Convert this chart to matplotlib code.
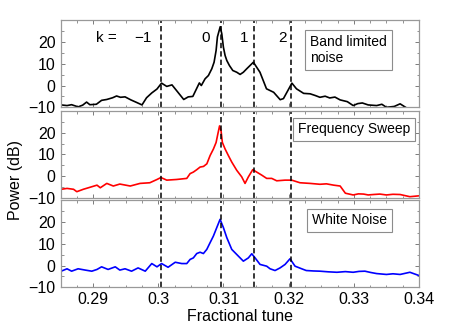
import matplotlib
matplotlib.use("Agg")
import matplotlib.pyplot as plt
from matplotlib.ticker import MultipleLocator

plt.rcParams.update({
    "font.family": ["Liberation Sans", "DejaVu Sans"],
    "font.size": 10,
    "xtick.direction": "in", "ytick.direction": "in",
    "xtick.top": True, "ytick.right": True,
})

# band limited noise (black)
bl_tune = [0.2851, 0.2860, 0.2867, 0.2877, 0.2884, 0.2890, 0.2895, 0.2905, 0.2913,
           0.2921, 0.2930, 0.2936, 0.2942, 0.2949, 0.2958, 0.2967, 0.2975, 0.2982,
           0.2990, 0.2998, 0.3005, 0.3013, 0.3021, 0.3028, 0.3039, 0.3046, 0.3053,
           0.3063, 0.3066, 0.30718, 0.30769, 0.30821, 0.30856, 0.30887, 0.30907,
           0.3095, 0.30974, 0.30999, 0.31025, 0.31051, 0.31091, 0.31143, 0.31204,
           0.31255, 0.31305, 0.31357, 0.31459, 0.3156, 0.3166, 0.3177, 0.3187,
           0.3192, 0.3205, 0.3212, 0.3223, 0.3233, 0.3241, 0.3248, 0.3256, 0.3263,
           0.3271, 0.3279, 0.3290, 0.3299, 0.3306, 0.3313, 0.3322, 0.3335, 0.3343,
           0.3350, 0.3362, 0.3371, 0.3381, 0.3395]
bl_db = [-8.9, -9.2, -8.8, -9.8, -9.0, -7.6, -8.8, -8.6, -6.8,
         -6.4, -5.6, -4.8, -5.4, -5.2, -6.6, -7.8, -8.9, -5.6,
         -3.4, -1.6, 1.1, -0.4, 0.3, -2.3, -6.4, -5.2, -5.0,
         1.2, 0.0, 3.1, 4.6, 7.7, 10.7, 16.1, 22.3,
         27.0, 23.8, 17.6, 13.8, 11.5, 9.2, 6.9, 6.1,
         5.1, 6.1, 7.7, 10.7, 6.1, -1.5, -3.1, -6.5,
         -6.0, 1.1, -1.5, -3.6, -3.8, -4.6, -5.4, -4.9, -5.7,
         -5.3, -6.6, -7.4, -9.2, -8.3, -8.0, -8.9, -9.2, -8.6,
         -10.0, -9.6, -8.4, -10.3, -10.6]

# frequency sweep (red)
fs_tune = [0.2851, 0.2860, 0.2870, 0.2875, 0.2885, 0.2895, 0.2906, 0.2911, 0.2921,
           0.2931, 0.2941, 0.2957, 0.2972, 0.2987, 0.2998, 0.3004, 0.3013, 0.3028,
           0.30437, 0.30488, 0.30538, 0.30590, 0.30641, 0.30694, 0.30745, 0.30795,
           0.30846, 0.30887, 0.30913, 0.3094, 0.30963, 0.30983, 0.31025, 0.31075,
           0.31127, 0.31204, 0.3128, 0.31331, 0.31382, 0.31449, 0.3151, 0.31587,
           0.31663, 0.3174, 0.31817, 0.31945, 0.32047, 0.32174, 0.3233, 0.3248,
           0.3258, 0.3269, 0.3279, 0.3287, 0.3299, 0.3307, 0.3315, 0.3322, 0.3330,
           0.3340, 0.3350, 0.3360, 0.3371, 0.3386, 0.3400]
fs_db = [-6.0, -5.6, -6.0, -7.1, -6.0, -5.1, -4.1, -5.3, -3.3,
         -4.5, -3.6, -4.5, -3.3, -3.0, -1.5, -0.6, -1.8, -1.5,
         -1.0, 1.2, 1.9, 3.0, 4.2, 4.5, 5.7, 9.5,
         12.5, 15.5, 19.3, 23.1, 20.8, 15.5, 12.5, 9.5,
         6.5, 2.7, -0.3, -3.3, -0.3, 3.0, 1.9, 0.5,
         -1.0, -1.0, -2.1, -1.8, -1.8, -3.0, -3.3, -3.7,
         -3.5, -4.1, -4.5, -7.8, -8.6, -8.1, -8.2, -8.6, -8.4,
         -8.2, -8.6, -8.3, -8.4, -9.4, -9.0]

# white noise (blue)
wn_tune = [0.2851, 0.2860, 0.2867, 0.2877, 0.2888, 0.2898, 0.2906, 0.2913, 0.2923,
           0.2934, 0.2941, 0.2949, 0.2959, 0.2969, 0.2980, 0.2990, 0.2998, 0.3005,
           0.3015, 0.3026, 0.3036, 0.30437, 0.30488, 0.30538, 0.3059, 0.30641,
           0.30692, 0.30744, 0.30795, 0.30845, 0.30897, 0.30948, 0.30999, 0.31051,
           0.31127, 0.31229, 0.31305, 0.31382, 0.31434, 0.31485, 0.31561, 0.31663,
           0.31715, 0.31791, 0.31868, 0.31945, 0.32021, 0.32098, 0.3220, 0.3227,
           0.3238, 0.3248, 0.3261, 0.3274, 0.3287, 0.3299, 0.3308, 0.3317, 0.3326,
           0.3335, 0.3350, 0.3360, 0.3371, 0.3386, 0.3400]
wn_db = [-2.6, -1.5, -2.6, -1.5, -2.1, -2.6, -1.8, -0.6, -1.8,
         -0.6, -2.1, -1.5, -2.6, -1.1, -2.6, 0.9, -0.6, 0.9,
         -0.8, 1.5, 0.9, 0.9, 2.8, 3.5, 5.5, 6.1,
         5.5, 7.4, 10.5, 13.5, 17.4, 21.2, 17.4, 12.8,
         7.4, 4.3, 2.0, 3.5, 5.4, 3.5, 0.5, -0.3,
         -1.5, -2.3, -1.1, 0.5, 3.1, -0.3, -1.5, -2.3,
         -2.5, -2.6, -2.9, -3.1, -2.8, -3.1, -2.7, -2.6, -3.2,
         -3.7, -4.1, -3.8, -4.1, -3.1, -4.6]

# sideband positions k = -1, 0, 1, 2
k_labels = ["\u22121", "0", "1", "2"]
k_tune = [0.3004, 0.3096, 0.3147, 0.3204]
k_label_x = [0.2977, 0.30725, 0.31316, 0.3190]

series = [
    (bl_tune, bl_db, "black", "Band limited\nnoise", (0.3292, 16.4)),
    (fs_tune, fs_db, "red", "Frequency Sweep", (0.3301, 21.5)),
    (wn_tune, wn_db, "blue", "White Noise", (0.3293, 20.7)),
]

fig = plt.figure(figsize=(4.63, 3.30), dpi=100)
left, width, height = 0.1307, 0.7743, 0.264
bottoms = [0.6748, 0.4000, 0.1294]

axes = []
for (tune, db, col, name, pos), b in zip(series, bottoms):
    ax = fig.add_axes([left, b, width, height])
    ax.plot(tune, db, color=col, lw=1.2)
    for kt in k_tune:
        ax.axvline(kt, color="black", lw=1.1, ls=(0, (3.5, 2)))
    ax.set_xlim(0.285, 0.34)
    ax.set_ylim(-10, 30)
    ax.set_yticks([-10, 0, 10, 20])
    ax.yaxis.set_minor_locator(MultipleLocator(5))
    ax.xaxis.set_major_locator(MultipleLocator(0.01))
    ax.xaxis.set_minor_locator(MultipleLocator(0.0025))
    ax.tick_params(which="major", length=3, width=0.6, color="0.4", labelsize=11.5)
    ax.tick_params(which="minor", length=1.8, width=0.5, color="0.4")
    for sp in ax.spines.values():
        sp.set_color("0.6")
        sp.set_linewidth(0.9)
    ax.text(pos[0], pos[1], name, ha="center", va="center", fontsize=10,
            multialignment="left",
            bbox=dict(boxstyle="square,pad=0.35", fc="white", ec="0.55", lw=0.8))
    axes.append(ax)

for ax in axes[:-1]:
    ax.tick_params(labelbottom=False)

top = axes[0]
top.text(0.29207, 21.7, "k =", ha="center", va="center", fontsize=11)
for lab, kx in zip(k_labels, k_label_x):
    top.text(kx, 21.7, lab, ha="center", va="center", fontsize=11)

axes[-1].set_xticks([0.29, 0.30, 0.31, 0.32, 0.33, 0.34])
axes[-1].set_xticklabels(["0.29", "0.3", "0.31", "0.32", "0.33", "0.34"])
axes[-1].set_xlabel("Fractional tune", fontsize=11.5, labelpad=1)
fig.text(0.033, 0.455, "Power (dB)", rotation=90, ha="center", va="center", fontsize=11.5)

fig.savefig("out.png", dpi=100)
